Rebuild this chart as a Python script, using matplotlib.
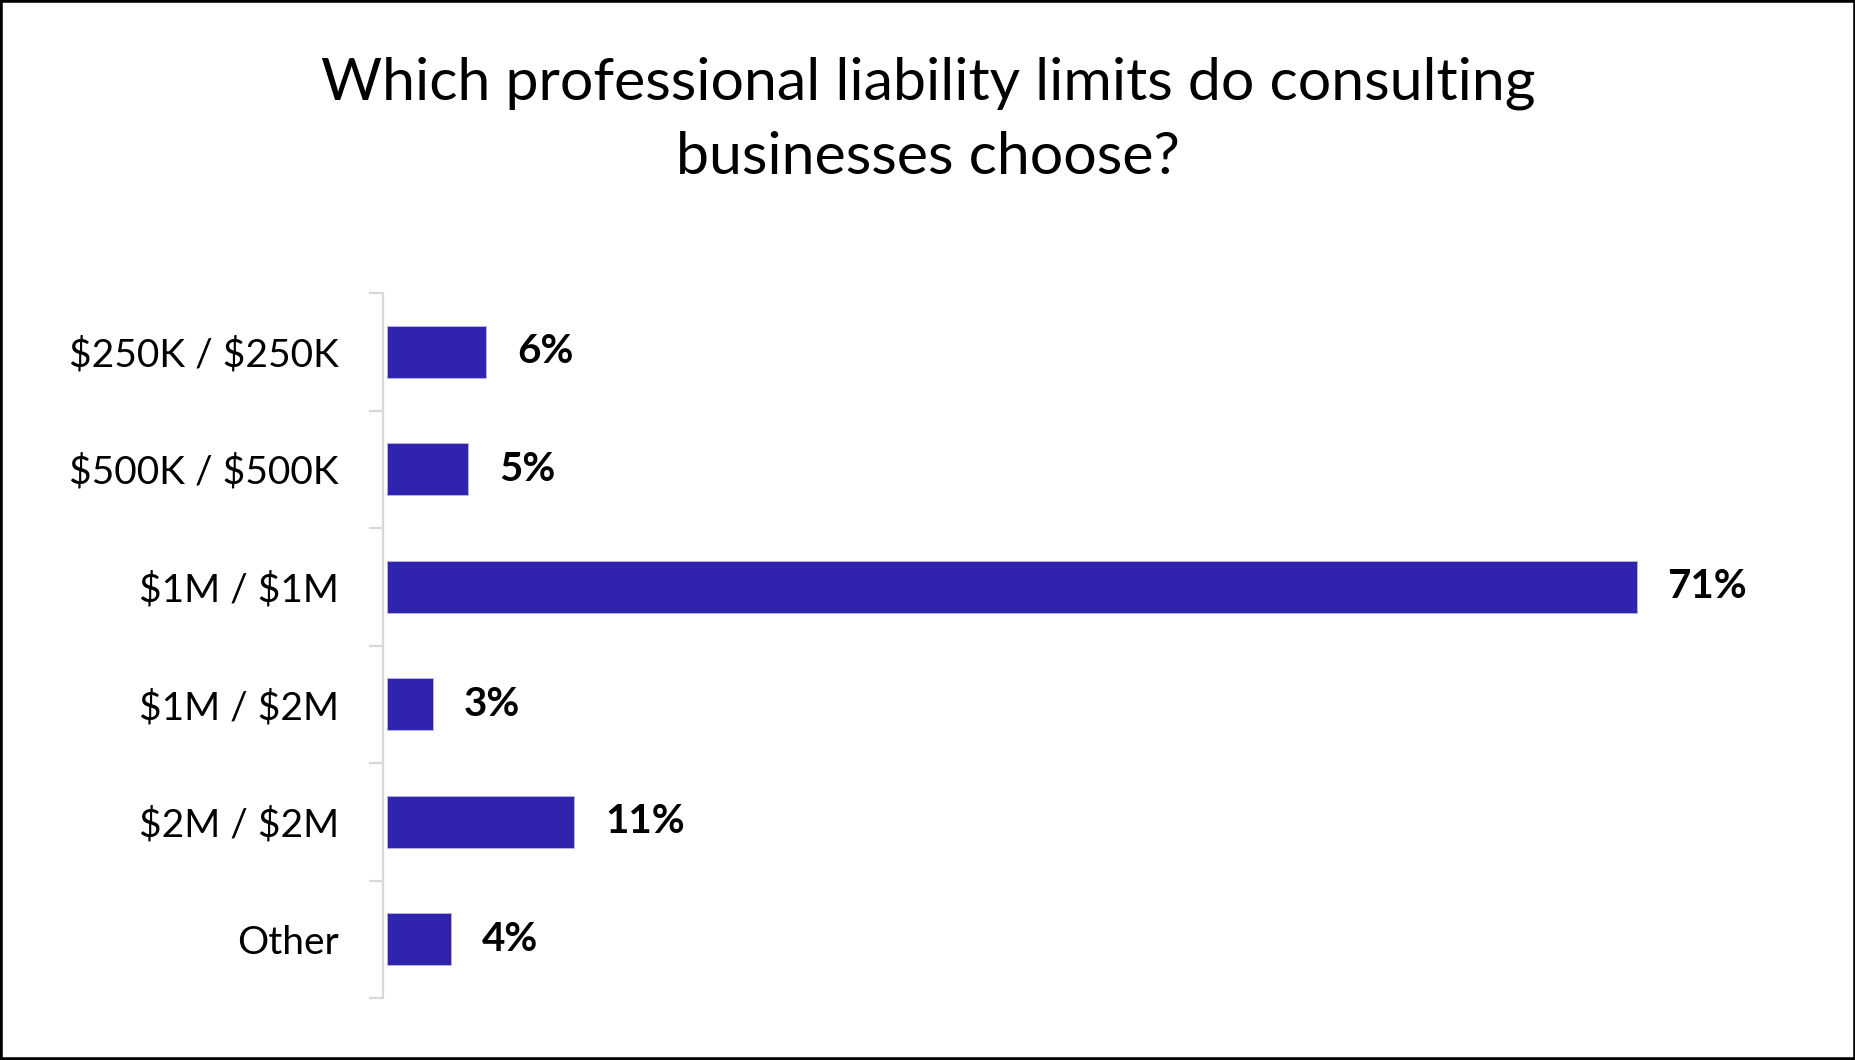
import matplotlib
matplotlib.use("Agg")
import matplotlib.pyplot as plt
from matplotlib.patches import Rectangle

plt.rcParams['font.family'] = ['Lato', 'DejaVu Sans']
plt.rcParams['text.parse_math'] = False

categories = ["$250K / $250K", "$500K / $500K", "$1M / $1M", "$1M / $2M", "$2M / $2M", "Other"]
values = [5.6, 4.6, 70.8, 2.6, 10.6, 3.6]
value_labels = ["6%", "5%", "71%", "3%", "11%", "4%"]
title_lines = ["Which professional liability limits do consulting", "businesses choose?"]

W, H = 1856, 1060
fig = plt.figure(figsize=(W / 100, H / 100), dpi=100)
fig.patch.set_facecolor("white")

ax_left, ax_right = 383, 1800
ax_top, ax_bot = 293, 998
ax = fig.add_axes([ax_left / W, 1 - ax_bot / H, (ax_right - ax_left) / W, (ax_bot - ax_top) / H])

px_per_unit = 17.65
x0 = -4 / px_per_unit
ax.set_xlim(x0, x0 + (ax_right - ax_left) / px_per_unit)
ax.set_ylim(len(categories) - 0.5, -0.5)

ypos = list(range(len(categories)))
ax.barh(ypos, values, height=0.44, color="#3024AE", edgecolor="#b9b4e6", linewidth=0.6)

for y, v, lab in zip(ypos, values, value_labels):
    ax.text(v + 31 / px_per_unit, y, lab, va="center", ha="left",
            fontsize=29, fontweight="bold", color="black")

ax.set_yticks(ypos)
ax.set_yticklabels(categories, fontsize=28, color="black")
ax.set_yticks([i - 0.5 for i in range(len(categories) + 1)], minor=True)
ax.tick_params(axis="y", which="major", length=0, pad=44 * 0.72)
ax.tick_params(axis="y", which="minor", length=10, width=1.6, color="#d9d9d9", direction="out")
ax.tick_params(axis="x", which="both", bottom=False, labelbottom=False)

for s in ["top", "right", "bottom"]:
    ax.spines[s].set_visible(False)
ax.spines["left"].set_color("#d9d9d9")
ax.spines["left"].set_linewidth(1.6)
ax.set_facecolor("none")

fig.text(0.5, 1 - 100 / H, title_lines[0], ha="center", va="baseline", fontsize=42.5, color="black")
fig.text(0.5, 1 - 174 / H, title_lines[1], ha="center", va="baseline", fontsize=42.5, color="black")

fig.patches.append(Rectangle((0, 0), 1, 1, transform=fig.transFigure, fill=False,
                             edgecolor="black", linewidth=4, zorder=10))

fig.savefig("out.png", dpi=100)
